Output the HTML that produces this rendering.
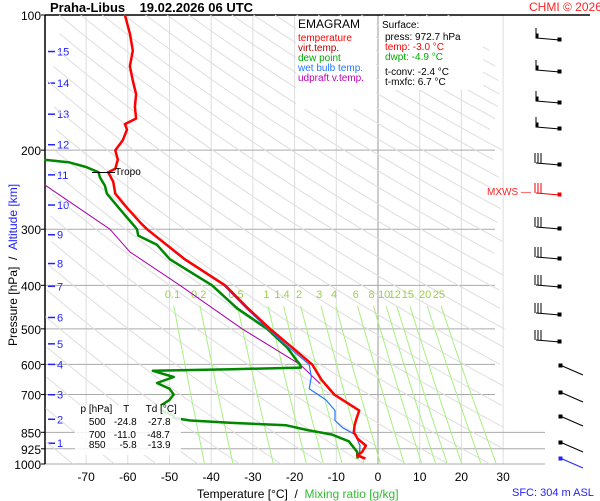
<!DOCTYPE html>
<html><head><meta charset="utf-8"><style>
body{margin:0;background:#fff;}
svg{display:block;font-family:"Liberation Sans",sans-serif;}
</style></head><body>
<svg id="chart" width="600" height="500" viewBox="0 0 600 500">
<rect width="600" height="500" fill="#fff"/>
<g id="grid"></g><g id="adiabats"></g><g id="mixing"></g><g id="series"></g><g id="overlay"></g>
</svg>
<script>
// ---- data ----
const tempP = [100,110,120,130,140,150,160,170,175,180,190,200,210,220,224,235,250,270,290,300,350,400,450,500,550,600,650,700,760,800,820,850,880,910,940,957,972.7];
const tempT = [-60.7,-59.5,-58.8,-59.5,-58.8,-58,-58.3,-58,-60.7,-60.2,-61.2,-63,-62.4,-63,-64.7,-63.5,-63,-60,-57,-55.4,-46.3,-36.7,-31.2,-25.9,-20.6,-15.8,-13.5,-10.5,-4.5,-5.3,-5.6,-5.8,-4.8,-2.9,-3.8,-5,-3.0];
const dewP = [210,213,218,224,230,240,250,270,300,310,325,350,400,450,500,550,590,600,610,615,620,640,660,680,700,720,740,760,780,790,800,810,820,840,860,890,940,972.7];
const dewT = [-80,-74,-70,-67,-66.7,-65.5,-65,-62,-57.8,-57.5,-53,-49.9,-39.8,-33.8,-26.6,-21.8,-19.4,-18.7,-18.5,-35,-54,-49,-53,-50,-49,-50,-52,-52,-49,-49,-45,-35,-22,-17,-11,-7,-5,-4.9];
const wetP = [100,110,120,130,140,150,160,170,175,180,190,200,210,220,224,235,250,270,290,300,350,400,450,500,550,600,640,680,720,760,800,830,860,910,950,972.7];
const wetT = [-60.8,-59.6,-58.9,-59.6,-58.9,-58.1,-58.4,-58.1,-60.8,-60.3,-61.3,-63.1,-62.5,-63.1,-64.8,-63.6,-63.1,-60.1,-57.1,-55.6,-46.6,-37.0,-31.6,-26.4,-21.4,-16.5,-16,-16.5,-12.5,-10.3,-10.3,-8.5,-5.5,-4.3,-4.5,-3.6];
const upP = [239,300,337,400,500,600,662];
const upT = [-79.9,-64.3,-59.5,-47.5,-32.6,-18.7,-13.9];
const mixW = [0.1,0.2,0.5,1,1.4,2,3,4,6,8,10,12,15,20,25];
const pTicks = [100,200,300,400,500,600,700,850,925,1000];
const tTicks = [-70,-60,-50,-40,-30,-20,-10,0,10,20,30];
const altKm = [15,14,13,12,11,10,9,8,7,6,5,4,3,2,1];
const altP = [120.6,141.8,166.3,194.5,227,265,308.6,357.7,402,471.7,540,600,701,795,899];
const barbY = [38,70,101,127,163,193,227,257,285,313,340,366,393,417,443,459];

// ---- axes ----
const X0=45,Y0=15,Y1=464;
const yP=p=>Y0+195*Math.log(p/100);
const xT=t=>378+4.17*t;
const NS='http://www.w3.org/2000/svg';
function mk(tag,attrs,parent){const e=document.createElementNS(NS,tag);for(const k in attrs)e.setAttribute(k,attrs[k]);parent.appendChild(e);return e;}
const grid=document.getElementById('grid'),adi=document.getElementById('adiabats'),mix=document.getElementById('mixing'),ser=document.getElementById('series'),ov=document.getElementById('overlay');

tTicks.forEach(t=>{
  const l=mk('line',{x1:xT(t),x2:xT(t),y1:Y0,y2:Y1,stroke:t===0?'#999':'#ddd','stroke-width':1},grid);
  
  
  const tx=mk('text',{x:xT(t),y:481,'font-size':12,'text-anchor':'middle',fill:'#000'},grid);
  tx.textContent=String(t);
  
  
});
pTicks.forEach(p=>{
  const y=yP(p);
  const l=mk('line',{x1:X0,x2:(p>=850?545:(p===100?590:495)),y1:y,y2:y,stroke:p===100?'#000':'#aaa','stroke-width':p===100?1.5:1},grid);
  
  
  mk('line',{x1:X0-4,x2:X0,y1:y,y2:y,stroke:'#000'},grid);
  const tx=mk('text',{x:41,y:y+5,'font-size':12,'text-anchor':'end',fill:'#000'},grid);
  tx.textContent=String(p);
  
  
});
const clipR=505;
for(let th=150;th<=560;th+=10){
  let pts=[];
  for(let p=100;p<=1000;p+=10){
    const t=th*Math.pow(p/1000,0.286)-273.15;let x=xT(t);
    if(x>=X0&&x<=clipR)pts.push(x.toFixed(1)+','+yP(p).toFixed(1));
  }
  if(pts.length>1){const pl=mk('polyline',{points:pts.join(' '),fill:'none',stroke:'#dedede','stroke-width':1},adi);
  
  }
}
function tFromW(w,p){const e=w*p/(622+w);const l=Math.log(e/6.112);return 243.5*l/(17.67-l);}
mixW.forEach(w=>{
  let pts=[];
  for(let p=445;p<=1000;p+=10){pts.push(xT(tFromW(w,p)).toFixed(1)+','+yP(p).toFixed(1));}
  const pl=mk('polyline',{points:pts.join(' '),fill:'none',stroke:'#a8f080','stroke-width':1},mix);
  
  
  const tx=mk('text',{x:xT(tFromW(w,430)),y:298,'font-size':11,'text-anchor':'middle',fill:'#9ad04a'},mix);
  tx.textContent=String(w);
  
  
});
mk('line',{x1:X0,x2:X0,y1:Y0,y2:Y1,stroke:'#000','stroke-width':1.5},grid);
altKm.forEach((k,i)=>{
  const y=yP(altP[i]);
  mk('line',{x1:48,x2:55,y1:y,y2:y,stroke:'#22f','stroke-width':1.5},grid);
  const tx=mk('text',{x:57,y:y+4,'font-size':11,fill:'#22f'},grid);
  tx.textContent=String(k);
  
  
});
function line(P,T,color,w,name){
  const pts=P.map((p,i)=>xT(T[i]).toFixed(1)+','+yP(p).toFixed(1)).join(' ');
  const pl=mk('polyline',{points:pts,fill:'none',stroke:color,'stroke-width':w,'stroke-linejoin':'round'},ser);
  
  
}
line(upP,upT,'#a0a','1','updraft-line');
line(dewP,dewT,'#080','2.5','dewpoint-line');
line(wetP,wetT,'#27f','1.2','wet-bulb-line');
line(tempP,tempT,'#f00','2.5','temperature-line');
barbY.forEach((y,i)=>{
  const c=i===5?'#e00':(i===15?'#22f':'#000');
  const g=mk('g',{stroke:c,'stroke-width':1,fill:c},ov);
  
  
  if(i<11){
    mk('line',{x1:536,y1:y,x2:560,y2:y+2},g);
    mk('rect',{x:558,y:y,width:3,height:3},g);
    if(i<4){mk('line',{x1:536,y1:y,x2:536,y2:y-10},g);mk('rect',{x:536,y:y-4,width:2,height:4},g);}
    else{for(let k=0;k<3;k++)mk('line',{x1:535+k*3,y1:y,x2:535+k*3,y2:y-10},g);}
  }else{
    mk('line',{x1:560,y1:y-1,x2:583,y2:y+9},g);
    mk('rect',{x:559,y:y-2,width:3,height:3},g);
  }
});
</script>
<div style="position:absolute;left:0;top:0;width:600px;height:500px;pointer-events:none;font-family:'Liberation Sans',sans-serif;">
<div style="position:absolute;left:50px;top:0px;font-size:13px;font-weight:bold;white-space:nowrap;">Praha-Libus &nbsp;&nbsp; 19.02.2026 06 UTC</div>
<div style="position:absolute;left:529px;top:0px;font-size:12px;color:#f22;white-space:nowrap;">CHMI © 2026</div>
<div style="position:absolute;left:296px;top:17px;width:80px;height:92px;background:#fff;font-size:10px;line-height:10px;white-space:nowrap;">
<div style="font-size:12px;color:#000;margin:2px 0 5px 2px;">EMAGRAM</div>
<div style="color:#f00;margin-left:2px;">temperature</div>
<div style="color:#b00;margin-left:2px;">virt.temp.</div>
<div style="color:#0a0;margin-left:2px;">dew point</div>
<div style="color:#27f;margin-left:2px;">wet bulb temp.</div>
<div style="color:#b0b;margin-left:2px;">udpraft v.temp.</div>
</div>
<div style="position:absolute;left:379px;top:17px;width:104px;height:73px;background:#fff;font-size:10px;line-height:10px;color:#000;white-space:nowrap;">
<div style="margin:4px 0 2px 3px;">Surface:</div>
<div style="margin-left:6px;">press: 972.7 hPa</div>
<div style="margin-left:6px;color:#f00;">temp: -3.0 °C</div>
<div style="margin-left:6px;color:#0a0;">dwpt: -4.9 °C</div>
<div style="margin:5px 0 0 6px;">t-conv: -2.4 °C</div>
<div style="margin-left:6px;">t-mxfc: 6.7 °C</div>
</div>
<div style="position:absolute;left:92px;top:172px;width:23px;height:1px;background:#000;"></div>
<div style="position:absolute;left:115px;top:167px;font-size:10px;">Tropo</div>
<div style="position:absolute;left:487px;top:187px;font-size:10px;color:#f22;white-space:nowrap;">MXWS —</div>
<div style="position:absolute;left:75px;top:405px;width:106px;height:50px;background:rgba(255,255,255,0.85);font-size:10px;line-height:10px;white-space:pre;">  p [hPa]    T      Td [°C]
<span style="line-height:16px;">     500   -24.8    -27.8</span>
     700   -11.0    -48.7
     850     -5.8    -13.9</div>
<div style="position:absolute;left:197px;top:487px;font-size:12px;white-space:nowrap;">Temperature [°C] &nbsp;/ &nbsp;<span style="color:#3b3;">Mixing ratio [g/kg]</span></div>
<div style="position:absolute;left:512px;top:487px;font-size:11px;color:#22f;white-space:nowrap;">SFC: 304 m ASL</div>
<div style="position:absolute;left:-92px;top:258px;width:210px;transform:rotate(-90deg);font-size:12px;text-align:center;white-space:nowrap;">Pressure [hPa] &nbsp;/ &nbsp;<span style="color:#22f;">Altitude [km]</span></div>
</div>
</body></html>
